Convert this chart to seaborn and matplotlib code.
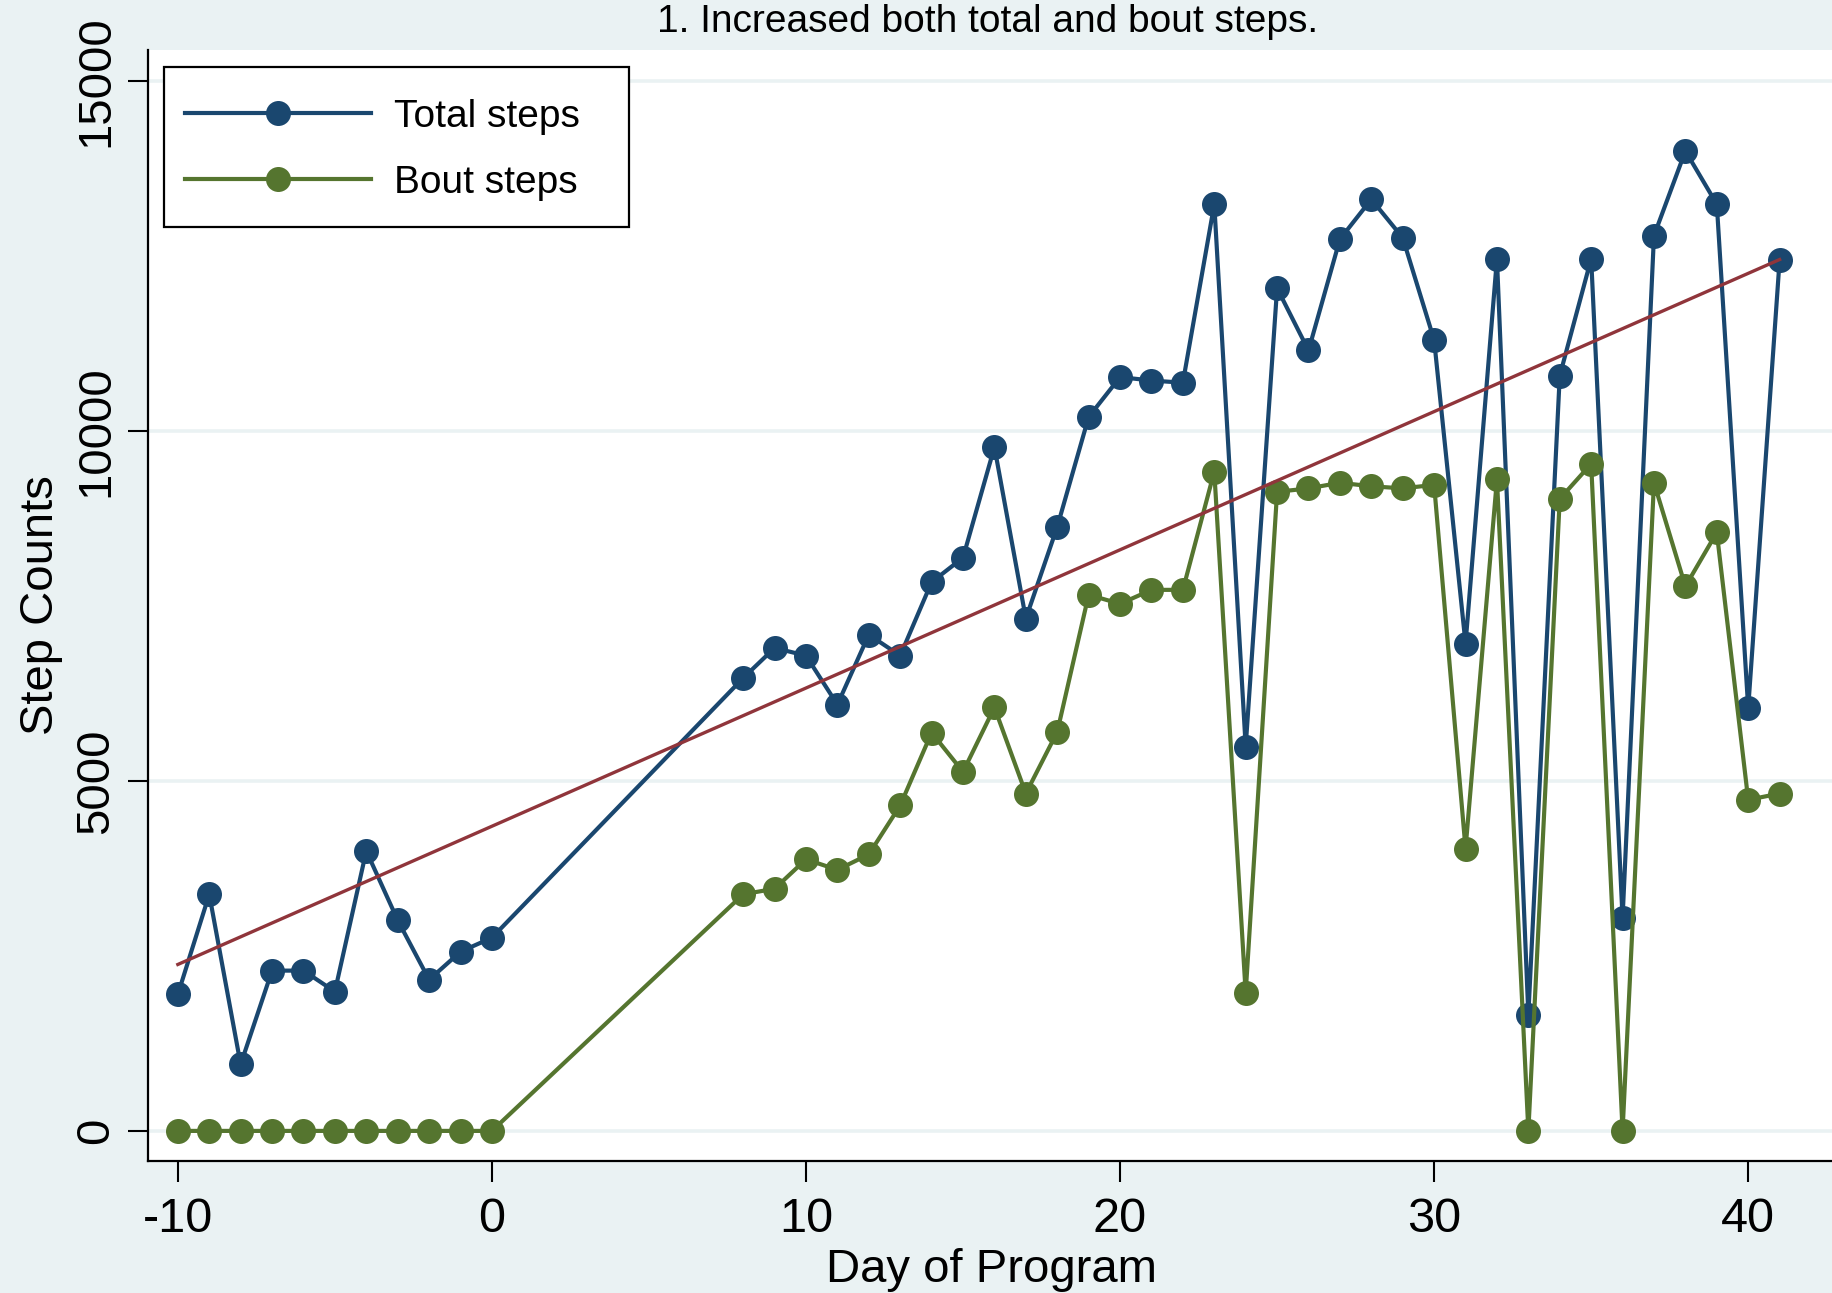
import numpy as np
import pandas as pd
import matplotlib
matplotlib.use("Agg")
import matplotlib.pyplot as plt
from matplotlib.lines import Line2D
from matplotlib.legend_handler import HandlerLine2D
import seaborn as sns

# Daily step counts (days 1-7 were not recorded)
days = [-10, -9, -8, -7, -6, -5, -4, -3, -2, -1, 0,
        8, 9, 10, 11, 12, 13, 14, 15, 16, 17, 18, 19, 20, 21, 22, 23, 24,
        25, 26, 27, 28, 29, 30, 31, 32, 33, 34, 35, 36, 37, 38, 39, 40, 41]
total_steps = [1950, 3380, 950, 2290, 2290, 1990, 4000, 3010, 2160, 2560, 2760,
               6470, 6900, 6790, 6090, 7090, 6790, 7840, 8190, 9770, 7320, 8630,
               10200, 10770, 10720, 10690, 13240, 5490, 12040, 11150, 12740,
               13310, 12760, 11300, 6960, 12460, 1660, 10790, 12460, 3040,
               12790, 14000, 13240, 6040, 12440]
bout_steps = [0, 0, 0, 0, 0, 0, 0, 0, 0, 0, 0,
              3380, 3460, 3880, 3730, 3950, 4650, 5690, 5130, 6050, 4820, 5700,
              7660, 7530, 7730, 7730, 9420, 1970, 9130, 9180, 9260, 9210, 9180,
              9230, 4030, 9310, 0, 9030, 9530, 0, 9260, 7780, 8550, 4730, 4820]

series_names = ["Total steps", "Bout steps"]
x_ticks = [-10, 0, 10, 20, 30, 40]
y_ticks = [0, 5000, 10000, 15000]
title_text = "1. Increased both total and bout steps."
x_label = "Day of Program"
y_label = "Step Counts"

NAVY = "#1a476f"
GREEN = "#55752f"
MAROON = "#90353b"
BG = "#eaf2f3"

df = pd.DataFrame({
    "day": days * 2,
    "steps": total_steps + bout_steps,
    "series": [series_names[0]] * len(days) + [series_names[1]] * len(days),
})


class CenteredLineHandler(HandlerLine2D):
    """Legend line handle kept level with the middle of the label text."""

    def create_artists(self, legend, orig_handle, xdescent, ydescent,
                       width, height, fontsize, trans):
        artists = super().create_artists(legend, orig_handle, xdescent, ydescent,
                                         width, height, fontsize, trans)
        for a in artists:
            y = np.asarray(a.get_ydata(), dtype=float)
            a.set_ydata(np.full_like(y, 0.36 * fontsize))
        return artists


plt.rcParams["font.family"] = ["Liberation Sans", "DejaVu Sans"]
plt.rcParams["axes.unicode_minus"] = False

fig = plt.figure(figsize=(18.33, 12.93), dpi=100, facecolor=BG)
ax = fig.add_axes([148 / 1833, 1 - 1161 / 1293, 1 - 148 / 1833, (1161 - 50) / 1293])
ax.set_facecolor("white")

ax.set_xlim(-10.95, 42.7)
ax.set_ylim(-430, 15443)

# horizontal grid
for yv in y_ticks:
    ax.axhline(yv, color=BG, lw=2.6, zorder=0.5)

LW = 3.0
MS = 18

sns.lineplot(data=df, x="day", y="steps", hue="series",
             palette={series_names[0]: NAVY, series_names[1]: GREEN},
             hue_order=series_names, estimator=None, errorbar=None,
             marker="o", markersize=MS, markeredgewidth=0, linewidth=LW,
             legend=False, ax=ax, zorder=3)

# linear fit of total steps on day
sns.regplot(x=np.array(days), y=np.array(total_steps), scatter=False, ci=None,
            truncate=True, color=MAROON, line_kws={"lw": 2.4, "zorder": 4}, ax=ax)

for s in ["top", "right"]:
    ax.spines[s].set_visible(False)
for s in ["left", "bottom"]:
    ax.spines[s].set_color("black")
    ax.spines[s].set_linewidth(1.6)

ax.set_xticks(x_ticks)
ax.set_yticks(y_ticks)
ax.tick_params(axis="x", length=15, width=1.5, pad=11, labelsize=35, color="black")
ax.tick_params(axis="y", length=14.4, width=1.5, pad=7, labelsize=34,
               labelrotation=90, color="black")
for lab in ax.get_yticklabels():
    lab.set_verticalalignment("center")
ax.set_xlabel("")
ax.set_ylabel("")

fig.text(0.539, 1 - 32 / 1293, title_text, ha="center", va="baseline", fontsize=28)
fig.text(0.541, 1 - 1282 / 1293, x_label, ha="center", va="baseline", fontsize=34)
fig.text(41 / 1833, 1 - 605 / 1293, y_label, ha="center", va="center",
         rotation=90, fontsize=34)

handles = [Line2D([], [], color=NAVY, lw=LW, marker="o", markersize=MS, markeredgewidth=0),
           Line2D([], [], color=GREEN, lw=LW, marker="o", markersize=MS, markeredgewidth=0)]
leg = ax.legend(handles, series_names, loc="upper left",
                bbox_to_anchor=(0.0095, 0.8416, 0.276, 0.1431), mode="expand",
                borderaxespad=0, fontsize=28, handlelength=4.76, handletextpad=0.6,
                handleheight=1.667, borderpad=0.55, labelspacing=0.36,
                handler_map={Line2D: CenteredLineHandler()},
                fancybox=False, framealpha=1, edgecolor="black", facecolor="white")
leg.get_frame().set_linewidth(1.6)

fig.savefig("out.png", dpi=100, facecolor=BG)
